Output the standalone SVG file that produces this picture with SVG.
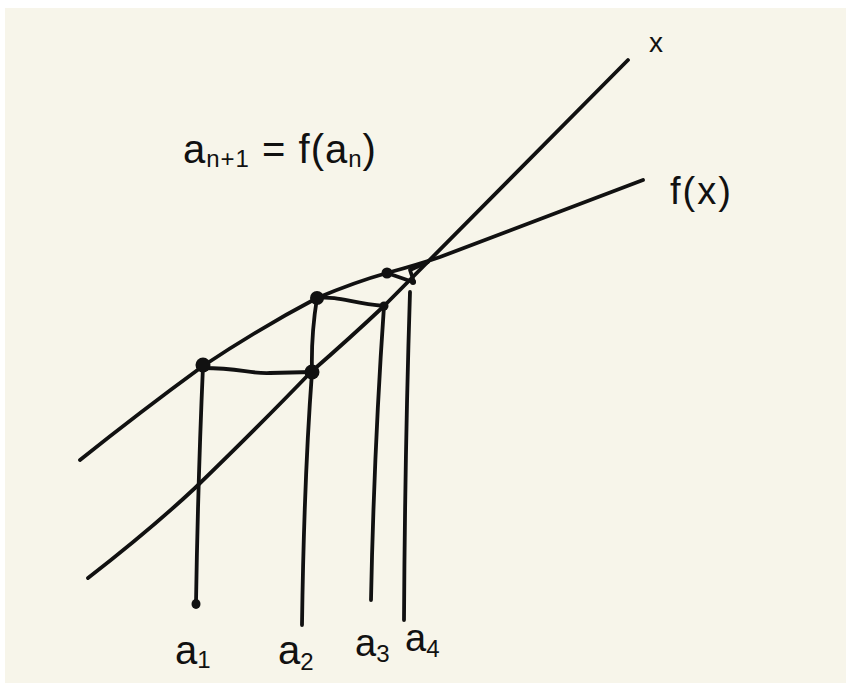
<svg xmlns="http://www.w3.org/2000/svg" width="846" height="683" viewBox="0 0 846 683">
<style>
.ln{fill:none;stroke:#111;stroke-width:3.8;stroke-linecap:round;stroke-linejoin:round}
.dot{fill:#111}
.t{font-family:"Liberation Sans","DejaVu Sans",sans-serif;fill:#111}
</style>
<rect x="0" y="0" width="846" height="683" fill="#ffffff"/>
<rect x="5" y="8" width="841" height="675" fill="#f7f5ea"/>
<g id="connectors">
<path id="line-x" class="ln" d="M88,578 Q150,530 195,488 Q260,425 311,372 Q350,338 384,306 L628,60"/>
<path id="curve-f" class="ln" d="M80,460 Q140,412 203,366 Q260,328 317,298 Q355,282 387,273 Q420,264 440,257 L643,180"/>
<path class="ln" d="M203,366 Q198,480 196,603"/>
<path class="ln" d="M317,298 Q311,335 312,372 Q304,480 302,625"/>
<path class="ln" d="M384,306 Q374,450 371,600"/>
<path class="ln" d="M410,292 Q405,450 404,620"/>
<path class="ln" d="M203,368 C240,368 250,374 270,373 L312,372"/>
<path class="ln" d="M317,298 C340,296 350,303 384,306"/>
<path class="ln" d="M387,273 L413,282 M410,270 L428,262 M410,270 L414,282"/>
</g>
<g id="points">
<circle class="dot" cx="203" cy="365" r="7.5"/>
<circle class="dot" cx="312" cy="372" r="7.5"/>
<circle class="dot" cx="317" cy="298" r="7"/>
<circle class="dot" cx="384" cy="306" r="4.5"/>
<circle class="dot" cx="387" cy="273" r="5.5"/>
<circle class="dot" cx="413" cy="282" r="3"/>
<ellipse class="dot" cx="196" cy="604" rx="4.5" ry="5"/>
</g>
<g id="labels">
<text class="t" x="183" y="163" font-size="40" letter-spacing="1">a<tspan font-size="24" dy="4">n+1</tspan><tspan dy="-4"> = f(a</tspan><tspan font-size="24" dy="4">n</tspan><tspan dy="-4">)</tspan></text>
<text class="t" x="649" y="52" font-size="28">x</text>
<text class="t" x="670" y="204" font-size="38" letter-spacing="2">f(x)</text>
<text class="t" x="175" y="664" font-size="40">a<tspan font-size="24" dy="4">1</tspan></text>
<text class="t" x="278" y="664" font-size="40">a<tspan font-size="24" dy="6">2</tspan></text>
<text class="t" x="355" y="656" font-size="38">a<tspan font-size="24" dy="6">3</tspan></text>
<text class="t" x="405" y="651" font-size="38">a<tspan font-size="24" dy="6">4</tspan></text>
</g>
</svg>
